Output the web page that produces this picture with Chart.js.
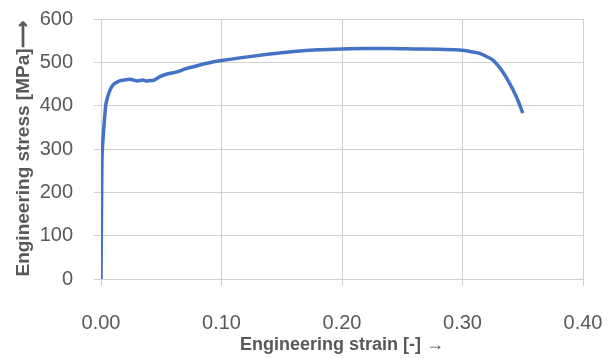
<!DOCTYPE html>
<html>
<head>
<meta charset="utf-8">
<script src="https://cdn.jsdelivr.net/npm/chart.js@4/dist/chart.umd.min.js"></script>
<style>
  html, body { margin: 0; padding: 0; background: #fff; }
  #wrap { width: 611px; height: 358px; }
</style>
</head>
<body>
<div id="wrap"><canvas id="stress-chart" width="611" height="358"></canvas></div>
<script>
// Engineering stress-strain curve
const strain = [0, 0.0005, 0.0008, 0.0012, 0.0016, 0.0022, 0.003, 0.0039, 0.005, 0.0064, 0.008,
  0.010, 0.0125, 0.0155, 0.019, 0.024, 0.027, 0.030, 0.032, 0.035, 0.038, 0.041, 0.043,
  0.046, 0.049, 0.055, 0.063, 0.070, 0.082, 0.090, 0.100, 0.120, 0.140, 0.160, 0.180,
  0.200, 0.220, 0.240, 0.260, 0.280, 0.300, 0.306, 0.314, 0.318, 0.3253, 0.329, 0.3336,
  0.339, 0.342, 0.346, 0.350];
const stress = [0, 200, 275, 301, 320, 344, 372, 400, 415, 428, 439,
  448, 453, 457, 459, 461, 459, 457, 458, 459, 457, 458, 458,
  462, 467, 473, 478, 485, 494, 499, 504, 512, 519, 525, 529,
  531, 532, 532, 531, 530, 528, 525, 521, 516, 505, 494, 477,
  452, 436, 412, 383];

const xTicks = [0, 0.1, 0.2, 0.3, 0.4];
const yTicks = [0, 100, 200, 300, 400, 500, 600];

const points = strain.map((s, i) => ({ x: s, y: stress[i] }));

const gridColor = '#d0d0d0';
const textColor = '#595959';
const fontFamily = '"Liberation Sans", Arial, sans-serif';

const ctx = document.getElementById('stress-chart');
new Chart(ctx, {
  type: 'scatter',
  data: {
    datasets: [{
      data: points,
      showLine: true,
      borderColor: '#4472C4',
      borderWidth: 3.5,
      pointRadius: 0,
      cubicInterpolationMode: 'monotone',
      fill: false
    }]
  },
  options: {
    responsive: false,
    animation: false,
    layout: { padding: { left: 4, right: 28, top: 19, bottom: 0 } },
    plugins: { legend: { display: false }, tooltip: { enabled: false } },
    scales: {
      x: {
        type: 'linear',
        min: 0,
        max: 0.4,
        afterBuildTicks: function(axis) {
          axis.ticks = xTicks.map(v => ({ value: v }));
        },
        afterFit: function(axis) {
          axis.height = 79;
          axis.paddingLeft = 0;
          axis.paddingRight = 0;
        },
        grid: { color: gridColor, tickColor: gridColor, tickLength: 7, lineWidth: 1 },
        border: { color: gridColor },
        ticks: {
          color: textColor,
          font: { family: fontFamily, size: 20 },
          padding: 25,
          maxRotation: 0,
          callback: function(value) { return value.toFixed(2); }
        },
        title: {
          display: true,
          text: 'Engineering strain [-] →',
          color: textColor,
          font: { family: fontFamily, size: 18, weight: 'bold' },
          padding: { top: 0, bottom: 2 }
        }
      },
      y: {
        min: 0,
        max: 600,
        afterBuildTicks: function(axis) {
          axis.ticks = yTicks.map(v => ({ value: v }));
        },
        afterFit: function(axis) {
          axis.width = 97;
          axis.paddingTop = 0;
          axis.paddingBottom = 0;
        },
        grid: { color: gridColor, tickColor: gridColor, tickLength: 7, lineWidth: 1 },
        border: { color: gridColor },
        ticks: {
          color: textColor,
          font: { family: fontFamily, size: 20 },
          padding: 21
        },
        title: {
          display: true,
          text: 'Engineering stress [MPa]⟶',
          color: textColor,
          font: { family: fontFamily, size: 19, weight: 'bold' },
          padding: { top: 8, bottom: 0 }
        }
      }
    }
  }
});
</script>
</body>
</html>
